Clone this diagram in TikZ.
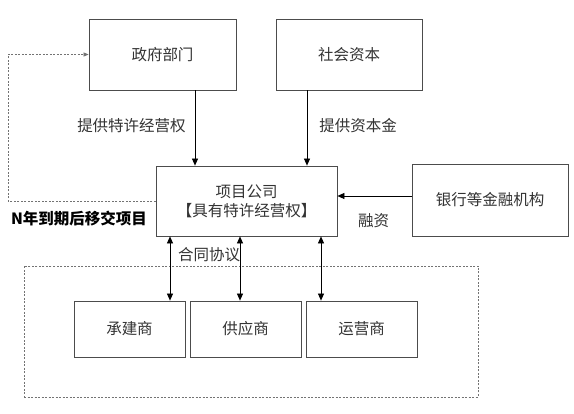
\documentclass[tikz,border=0pt]{standalone}
\usepackage{fontspec}
\setmainfont{Noto Sans CJK SC}
\newfontfamily\cjk{Noto Sans CJK SC}
\usetikzlibrary{arrows.meta}
\begin{document}
\begin{tikzpicture}[x=1pt,y=-1pt,
  box/.style={draw=black!70,line width=0.8pt,minimum width=#1,inner sep=0pt,font=\cjk\fontsize{15.5}{19}\selectfont,align=center,text=black!80},
  lbl/.style={font=\cjk\fontsize{15.5}{19}\selectfont,text=black!80,inner sep=0pt},
  arr/.style={line width=0.7pt,-{Triangle[length=7pt,width=6pt]}},
  darr/.style={line width=0.7pt,{Triangle[length=7pt,width=6pt]}-{Triangle[length=7pt,width=6pt]}},
  dsh/.style={draw=black!55,line width=0.7pt,dash pattern=on 2pt off 1.5pt}]
\useasboundingbox[fill=white] (0,0) rectangle (574,414);
\node[dsh,minimum width=454pt,minimum height=131pt,inner sep=0pt] (grp) at (251,331.5) {};
\node[box=147pt,minimum height=71pt] (gov) at (162.5,54.5) {政府部门};
\node[box=146pt,minimum height=71pt] (soc) at (349,54.5) {社会资本};
\node[box=181pt,minimum height=70pt] (proj) at (246.5,201) {项目公司\\【具有特许经营权】};
\node[box=156pt,minimum height=72pt] (bank) at (490,200) {银行等金融机构};
\node[box=111pt,minimum height=56pt] (c1) at (129.5,329) {承建商};
\node[box=111pt,minimum height=56pt] (c2) at (245.5,329) {供应商};
\node[box=111pt,minimum height=56pt] (c3) at (361.5,329) {运营商};
\coordinate (xa) at (195,0);
\coordinate (xb) at (307,0);
\coordinate (xc) at (170,0);
\coordinate (xd) at (240,0);
\coordinate (xe) at (321,0);
\coordinate (yb) at (0,196);
\coordinate (fb) at (8,0);
\draw[arr] (gov.south -| xa) -- (proj.north -| xa);
\draw[arr] (soc.south -| xb) -- (proj.north -| xb);
\draw[arr] (bank.west |- yb) -- (proj.east |- yb);
\draw[darr] (proj.south -| xc) -- (c1.north -| xc);
\draw[darr] (proj.south -| xd) -- (c2.north -| xd);
\draw[darr] (proj.south -| xe) -- (c3.north -| xe);
\draw[dsh,-{Triangle[length=5pt,width=4pt]}] (proj.west) -- (proj.west -| fb) |- (gov.west);
\node[lbl] (l1) at (131.5,126) {提供特许经营权};
\node[lbl] (l2) at (358,126) {提供资本金};
\node[lbl] (l3) at (373.5,221) {融资};
\node[lbl] (l4) at (209,255) {合同协议};
\node[lbl,font=\cjk\bfseries\fontsize{15.5}{19}\selectfont,text=black] (l5) at (79,219) {N年到期后移交项目};
\end{tikzpicture}
\end{document}
